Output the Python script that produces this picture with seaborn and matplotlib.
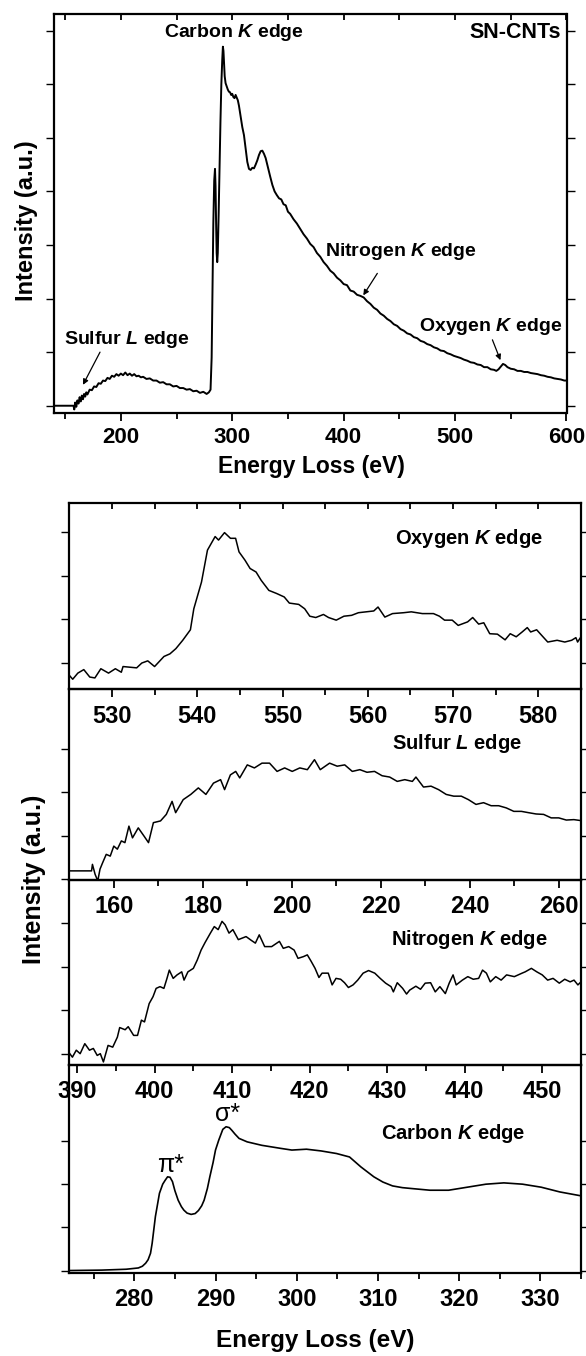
import numpy as np
import pandas as pd
import matplotlib
matplotlib.use('Agg')
import matplotlib.pyplot as plt
import seaborn as sns
from matplotlib.ticker import MultipleLocator

# estilo general
sns.set_theme(style='ticks', rc={'axes.edgecolor': 'black', 'xtick.color': 'black',
                                 'ytick.color': 'black', 'text.color': 'black',
                                 'axes.labelcolor': 'black'})
plt.rcParams['font.family'] = ['Liberation Sans', 'DejaVu Sans']
plt.rcParams['font.weight'] = 'bold'
plt.rcParams['mathtext.fontset'] = 'custom'
plt.rcParams['mathtext.rm'] = 'Liberation Sans:bold'
plt.rcParams['mathtext.it'] = 'Liberation Sans:italic:bold'

# ---- datos: espectro completo SN-CNTs ----
full_E = [140, 150, 157.5, 158.2, 159, 160, 161, 162, 163, 164, 165, 166, 167, 168, 169, 170,
          172, 174, 176, 178, 180, 182, 184, 186, 188, 190, 192, 194, 196, 198, 200, 202, 204,
          206, 208, 210, 212, 214, 216, 218, 220, 223, 226, 229, 232, 235, 238, 241, 244, 247,
          250, 253, 256, 259, 262, 265, 268, 271, 274, 277, 279, 280.5, 281.5, 282.3, 283,
          283.8, 284.5, 285, 285.5, 286, 286.5, 287, 287.8, 288.6, 289.4, 290.2, 291, 291.6,
          292.1, 292.6, 293.2, 294, 295, 296, 297, 298, 299, 300, 301, 302, 303, 304, 305, 306,
          307.5, 309, 310.5, 312, 313.5, 315, 316.5, 318, 319.5, 321, 322.5, 324, 325.5, 327,
          328.5, 330, 332, 334, 336, 338, 340, 342, 344, 346, 348, 350, 352, 355, 358, 361, 364,
          367, 370, 373, 376, 379, 382, 385, 388, 391, 394, 397, 400, 403, 406, 409, 412, 415,
          418, 421, 424, 427, 430, 433, 436, 439, 442, 445, 448, 451, 454, 457, 460, 463, 466,
          469, 472, 475, 478, 481, 484, 487, 490, 493, 496, 499, 502, 505, 508, 511, 514, 517,
          520, 523, 526, 529, 532, 535, 537, 539, 541, 543, 545, 547, 550, 553, 556, 559, 562,
          565, 568, 571, 574, 577, 580, 583, 586, 589, 592, 595, 598, 600]
full_I = [0.0, 0.0, 0.0, -0.07, 0.06, -0.02, 0.1, 0.04, 0.16, 0.08, 0.19, 0.12, 0.22, 0.17, 0.25, 0.21,
          0.3, 0.29, 0.36, 0.35, 0.42, 0.41, 0.47, 0.46, 0.52, 0.5, 0.56, 0.54, 0.59, 0.56, 0.6, 0.57, 0.62,
          0.57, 0.6, 0.56, 0.59, 0.55, 0.56, 0.53, 0.54, 0.5, 0.51, 0.47, 0.47, 0.43, 0.44, 0.4, 0.4, 0.36,
          0.37, 0.33, 0.33, 0.3, 0.31, 0.27, 0.28, 0.24, 0.26, 0.22, 0.25, 0.3, 0.9, 2.2, 3.4,
          4.2, 4.42, 4.1, 3.4, 2.85, 2.68, 2.85, 3.6, 4.5, 5.3, 6.0, 6.45, 6.7,
          6.62, 6.4, 6.15, 6.02, 5.96, 5.9, 5.86, 5.85, 5.8, 5.82, 5.76, 5.74, 5.8, 5.75, 5.7, 5.6,
          5.4, 5.2, 5.05, 4.8, 4.55, 4.42, 4.4, 4.44, 4.43, 4.5, 4.58, 4.68, 4.75, 4.76,
          4.7, 4.62, 4.45, 4.28, 4.12, 4.0, 3.93, 3.87, 3.85, 3.76, 3.74, 3.62, 3.58, 3.48, 3.4, 3.3, 3.2,
          3.12, 3.02, 2.96, 2.85, 2.78, 2.68, 2.61, 2.52, 2.47, 2.39, 2.34, 2.27, 2.25, 2.15, 2.13, 2.07, 2.05,
          2.02, 1.95, 1.9, 1.83, 1.79, 1.72, 1.68, 1.62, 1.58, 1.52, 1.49, 1.43, 1.4, 1.35, 1.33, 1.28, 1.26,
          1.21, 1.19, 1.15, 1.13, 1.09, 1.07, 1.03, 1.02, 0.98, 0.96, 0.93, 0.91, 0.89, 0.86, 0.84, 0.81, 0.8,
          0.77, 0.76, 0.72, 0.72, 0.68, 0.67, 0.65, 0.68, 0.73, 0.78, 0.76, 0.72, 0.69, 0.68, 0.65, 0.65, 0.63,
          0.63, 0.61, 0.6, 0.59, 0.57, 0.56, 0.54, 0.53, 0.51, 0.5, 0.49, 0.47, 0.47]

# ---- borde K del oxigeno ----
oxy_E = [525, 525.4, 526, 526.7, 527.4, 528, 528.7, 529.6, 530.4, 531.1, 531.3, 532.9, 533.5, 534.2,
         535, 536.1, 536.8, 537.5, 538.3, 539.2, 539.6, 540.5, 541.2, 542.1, 542.5, 543.2, 543.9, 544.5,
         544.9, 545.6, 546.2, 546.9, 547.5, 548.4, 549.3, 550.2, 550.8, 551.9, 552.6, 553.2, 553.9, 554.8,
         555.4, 556.3, 557.2, 558.1, 558.9, 559.8, 560.7, 561.2, 562, 562.9, 564.2, 565.1, 566.4, 567.7,
         568.4, 569, 569.9, 570.6, 571.7, 572.3, 573, 573.6, 574.3, 575.2, 576.1, 576.7, 577.4, 578.1,
         578.7, 579.1, 579.8, 580.4, 581.1, 582.2, 583.1, 583.9, 584.4, 584.6, 585]
oxy_I = [-0.28, -0.37, -0.23, -0.15, -0.32, -0.34, -0.13, -0.23, -0.13, -0.21, -0.08, -0.11, 0.0, 0.05,
         -0.08, 0.15, 0.21, 0.33, 0.52, 0.76, 1.24, 1.85, 2.58, 2.89, 2.81, 2.98, 2.85, 2.85,
         2.54, 2.35, 2.16, 2.08, 1.89, 1.66, 1.59, 1.51, 1.37, 1.34, 1.24, 1.07, 1.04, 1.11,
         1.04, 0.98, 1.07, 1.09, 1.15, 1.17, 1.19, 1.28, 1.05, 1.13, 1.15, 1.17, 1.13, 1.13,
         1.07, 0.98, 0.98, 0.86, 0.94, 1.04, 0.89, 0.92, 0.67, 0.66, 0.53, 0.67, 0.6, 0.71,
         0.81, 0.71, 0.76, 0.63, 0.48, 0.52, 0.48, 0.52, 0.58, 0.48, 0.6]

# ---- borde L del azufre ----
sul_E = [150, 155, 155.2, 155.8, 156.4, 156.9, 157.5, 158.3, 159.2, 160, 160.8, 161.7, 162.5, 163.4,
         164.2, 165.5, 166.8, 167.8, 168.9, 170.5, 171.8, 173.1, 173.9, 175.6, 177.3, 179, 180.7, 182.4,
         184, 184.9, 186.2, 187.4, 188.3, 190, 191.6, 193.3, 195, 196.7, 198.4, 200.1, 201.8, 203.5,
         205.1, 206.4, 208.5, 210.2, 211.9, 213.6, 215.3, 216.9, 218.6, 220.3, 222, 223.7, 225.4, 227.1,
         227.9, 229.6, 231.3, 233, 234.7, 236.4, 238.1, 239.7, 241.4, 243.1, 244.8, 246.5, 248.2, 249.9,
         251.6, 253.2, 254.9, 256.6, 258.3, 260, 261.7, 263.4, 265.5]
sul_I = [0.19, 0.19, 0.34, 0.11, -0.04, 0.23, 0.38, 0.57, 0.53, 0.76, 0.69, 0.88, 0.84, 1.22,
         0.95, 1.18, 0.99, 0.84, 1.3, 1.34, 1.49, 1.79, 1.53, 1.83, 1.95, 2.1, 1.95, 2.21,
         2.29, 2.06, 2.4, 2.48, 2.33, 2.63, 2.56, 2.67, 2.67, 2.48, 2.56, 2.48, 2.56, 2.52,
         2.75, 2.52, 2.67, 2.6, 2.63, 2.48, 2.52, 2.46, 2.48, 2.38, 2.35, 2.25, 2.29, 2.25,
         2.35, 2.12, 2.14, 2.06, 1.95, 1.91, 1.91, 1.83, 1.72, 1.76, 1.69, 1.69, 1.64, 1.56,
         1.56, 1.53, 1.5, 1.49, 1.41, 1.41, 1.36, 1.37, 1.34]

# ---- borde K del nitrogeno ----
nit_E = [388.9, 389.4, 389.9, 390.4, 391, 391.6, 392.1, 392.6, 393, 393.4, 394, 394.6, 395.2, 395.5,
         396.2, 396.6, 397.3, 397.8, 398.3, 398.7, 399.3, 399.8, 400.2, 400.7, 401.2, 401.6, 401.9, 402.4,
         402.9, 403.5, 403.8, 404.3, 405, 405.5, 406, 406.5, 407.2, 407.7, 408.2, 408.7, 409.1, 409.6,
         410.1, 410.8, 411.8, 412.5, 413, 413.5, 414.2, 415.1, 416.1, 416.6, 417.3, 418, 418.5, 419.2,
         419.7, 420.2, 420.7, 421.2, 421.6, 422.4, 422.9, 423.4, 424, 424.5, 425, 425.6, 426.2, 426.9,
         427.6, 428.4, 429.1, 429.8, 430.5, 430.8, 431.3, 432, 432.5, 432.9, 433.7, 434.3, 434.9, 435.6,
         436.2, 436.8, 437.5, 438, 438.5, 438.9, 439.7, 440.4, 441.1, 441.8, 442.3, 442.8, 443.3, 444,
         444.7, 445.4, 446.4, 447.4, 447.8, 448.6, 449.3, 450, 450.7, 451.4, 452.2, 452.9, 453.6, 454.1,
         454.6, 455]
nit_I = [0.04, -0.08, 0.08, 0.0, 0.23, 0.08, 0.12, -0.04, 0.0, -0.19, 0.19, 0.15, 0.38, 0.6,
         0.55, 0.62, 0.42, 0.42, 0.77, 0.73, 1.15, 1.31, 1.5, 1.54, 1.5, 1.73, 1.92, 1.73,
         1.81, 1.88, 1.69, 1.88, 1.96, 2.15, 2.38, 2.55, 2.77, 2.92, 2.85, 3.04, 2.96, 2.77,
         2.85, 2.62, 2.69, 2.6, 2.54, 2.73, 2.46, 2.46, 2.58, 2.42, 2.46, 2.38, 2.19, 2.23,
         2.27, 2.12, 1.96, 1.75, 1.85, 1.85, 1.58, 1.73, 1.71, 1.63, 1.52, 1.58, 1.69, 1.85,
         1.91, 1.85, 1.73, 1.62, 1.54, 1.42, 1.63, 1.5, 1.37, 1.46, 1.55, 1.48, 1.62, 1.63,
         1.42, 1.54, 1.38, 1.62, 1.81, 1.58, 1.69, 1.77, 1.71, 1.73, 1.92, 1.85, 1.65, 1.77,
         1.69, 1.81, 1.77, 1.85, 1.88, 1.96, 1.88, 1.81, 1.69, 1.73, 1.62, 1.71, 1.65, 1.69,
         1.58, 1.65]

# ---- borde K del carbono ----
car_E = [272, 276, 279, 280.5, 281, 281.4, 281.7, 282.0, 282.2, 282.6, 283.1, 283.5, 283.8, 284.1,
         284.4, 284.7, 285.0, 285.4, 285.8, 286.1, 286.5, 287, 287.5, 287.9, 288.3, 288.6, 289.0, 289.3,
         289.7, 290, 290.4, 290.9, 291.3, 291.7, 292, 292.4, 292.9, 293.9, 295.7, 298, 299.4, 301.2,
         303, 304.9, 306.5, 307.9, 309.5, 310.6, 311.8, 313, 314.1, 316.4, 318.7, 321, 323.3, 325.5,
         327.8, 330.1, 332.4, 335]
car_I = [0.0, 0.01, 0.03, 0.06, 0.1, 0.17, 0.25, 0.4, 0.63, 1.25, 1.79, 2.0, 2.09, 2.17,
         2.16, 2.06, 1.85, 1.63, 1.48, 1.4, 1.33, 1.3, 1.32, 1.39, 1.5, 1.63, 1.9, 2.17,
         2.5, 2.79, 3.02, 3.27, 3.33, 3.31, 3.25, 3.16, 3.06, 2.98, 2.9, 2.83, 2.79, 2.81,
         2.77, 2.71, 2.63, 2.4, 2.17, 2.05, 1.96, 1.92, 1.9, 1.86, 1.86, 1.93, 2.0, 2.03,
         2.0, 1.93, 1.82, 1.73]

W, H = 586, 1356
fig = plt.figure(figsize=(W / 100, H / 100), dpi=100)


def caja(l, t, r, b):
    ax = fig.add_axes([l / W, 1 - b / H, (r - l) / W, (b - t) / H])
    ax.patch.set_visible(False)
    return ax


def dibujar(ax, E, I, lw):
    df = pd.DataFrame({'E': E, 'I': I})
    sns.lineplot(data=df, x='E', y='I', ax=ax, color='black', lw=lw,
                 estimator=None, sort=False)
    ax.set_xlabel('')
    ax.set_ylabel('')


def estilo(ax, xlim, ylim, paso, menor, nticks, tam, pad, tope=False):
    ax.set_xlim(*xlim)
    ax.set_ylim(*ylim)
    ax.xaxis.set_major_locator(MultipleLocator(paso))
    ax.xaxis.set_minor_locator(MultipleLocator(menor))
    ax.set_yticks(range(nticks))
    ax.set_yticklabels([])
    ax.tick_params(axis='x', which='major', direction='out', length=6, width=1.3,
                   labelsize=tam, pad=pad)
    ax.tick_params(axis='x', which='minor', direction='out', length=4, width=1.3)
    ax.tick_params(axis='y', direction='out', length=6, width=1.0, right=True)
    for lab in ax.get_xticklabels():
        lab.set_fontweight('bold')
    for s in ax.spines.values():
        s.set_linewidth(1.6)
        s.set_visible(True)
    if tope:
        sec = ax.secondary_xaxis('top')
        sec.xaxis.set_major_locator(MultipleLocator(menor))
        sec.tick_params(direction='in', length=4, width=1.3, labeltop=False)


# panel superior
ax0 = caja(54, 14, 566.5, 412.7)
dibujar(ax0, full_E, full_I, 1.4)
estilo(ax0, (140, 600), (-0.13, 7.31), 100, 50, 8, 16, 4, tope=True)
fs = 14
ax0.text(301.7, 6.96, 'Carbon $K$ edge', fontsize=fs, ha='center', va='center')
ax0.text(594.6, 6.97, 'SN-CNTs', fontsize=15.5, ha='right', va='center')
flecha = dict(arrowstyle='-|>', lw=0.9, color='black', mutation_scale=8, shrinkA=0, shrinkB=0)
ax0.text(451.3, 2.87, 'Nitrogen $K$ edge', fontsize=fs, ha='center', va='center')
ax0.annotate('', xy=(417.6, 2.06), xytext=(430.2, 2.47), arrowprops=flecha)
ax0.text(531.7, 1.47, 'Oxygen $K$ edge', fontsize=fs, ha='center', va='center')
ax0.annotate('', xy=(540.7, 0.85), xytext=(533.5, 1.23), arrowprops=flecha)
ax0.text(205.6, 1.23, 'Sulfur $L$ edge', fontsize=fs, ha='center', va='center')
ax0.annotate('', xy=(166, 0.39), xytext=(181.3, 1.0), arrowprops=flecha)
fig.text(27 / W, 1 - 221 / H, 'Intensity (a.u.)', rotation=90, fontsize=17,
         ha='center', va='center')
fig.text(311 / W, 1 - 466 / H, 'Energy Loss (eV)', fontsize=16.5, ha='center', va='center')

# paneles inferiores
L, R = 69.3, 581
fs2 = 14.5
ax1 = caja(L, 503.3, R, 689.3)
dibujar(ax1, oxy_E, oxy_I, 1.1)
estilo(ax1, (525, 585), (-0.6, 3.65), 10, 5, 4, 17, 5, tope=True)
ax1.text(571.9, 2.85, 'Oxygen $K$ edge', fontsize=fs2, ha='center', va='center')

ax2 = caja(L, 689.3, R, 880)
dibujar(ax2, sul_E, sul_I, 1.1)
estilo(ax2, (150, 265), (-0.02, 4.37), 20, 10, 4, 17, 5)
ax2.text(237.2, 3.13, 'Sulfur $L$ edge', fontsize=fs2, ha='center', va='center')

ax3 = caja(L, 880, R, 1065)
dibujar(ax3, nit_E, nit_I, 1.1)
estilo(ax3, (389, 455), (-0.26, 3.99), 10, 5, 4, 17, 5)
ax3.text(440.6, 2.62, 'Nitrogen $K$ edge', fontsize=fs2, ha='center', va='center')

ax4 = caja(L, 1065, R, 1272.7)
dibujar(ax4, car_E, car_I, 1.2)
estilo(ax4, (272, 335), (-0.05, 4.76), 10, 5, 4, 17, 5)
ax4.text(319.3, 3.17, 'Carbon $K$ edge', fontsize=fs2, ha='center', va='center')
ax4.text(284.5, 2.45, 'π*', fontsize=18, fontweight='normal', ha='center', va='center')
ax4.text(291.5, 3.62, 'σ*', fontsize=18, fontweight='normal', ha='center', va='center')

fig.text(34 / W, 1 - 879 / H, 'Intensity (a.u.)', rotation=90, fontsize=18,
         ha='center', va='center')
fig.text(315 / W, 1 - 1341 / H, 'Energy Loss (eV)', fontsize=17.5, ha='center', va='center')

fig.savefig('out.png', dpi=100)
